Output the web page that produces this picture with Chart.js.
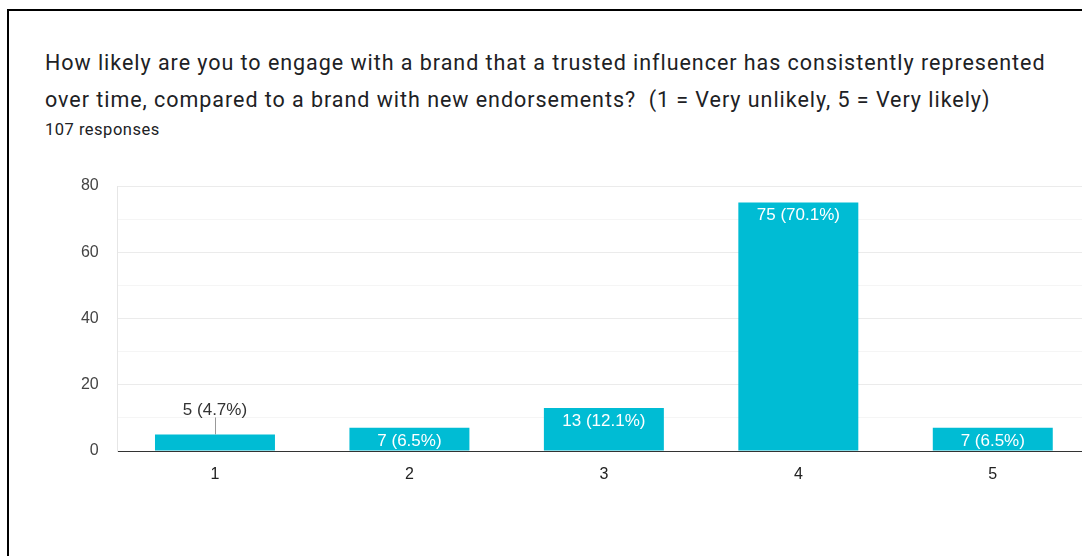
<!DOCTYPE html>
<html>
<head>
<meta charset="utf-8">
<script src="https://cdn.jsdelivr.net/npm/chart.js@4.4.1/dist/chart.umd.min.js"></script>
<style>
  html, body {
    margin: 0;
    padding: 0;
    background: #fff;
    width: 1082px;
    height: 556px;
    overflow: hidden;
  }
  .card {
    position: absolute;
    left: 7px;
    top: 9px;
    width: 1200px;
    height: 700px;
    border-left: 2px solid #000;
    border-top: 2px solid #000;
  }
  .title {
    position: absolute;
    left: 45px;
    top: 44px;
    font-family: Roboto, 'Noto Sans', sans-serif;
    font-size: 21.5px;
    line-height: 37px;
    color: #202124;
    white-space: pre;
    letter-spacing: 0.96px;
  }
  .count {
    position: absolute;
    left: 45px;
    top: 120px;
    font-family: Roboto, 'Noto Sans', sans-serif;
    font-size: 16.5px;
    color: #202124;
    letter-spacing: 0.5px;
  }
  #chart {
    position: absolute;
    left: 0;
    top: 0;
  }
</style>
</head>
<body>
<div class="card"></div>
<div class="title">How likely are you to engage with a brand that a trusted influencer has consistently represented
over time, compared to a brand with new endorsements?  (1 = Very unlikely, 5 = Very likely)</div>
<div class="count">107 responses</div>
<canvas id="chart" width="1100" height="556"></canvas>

<script>
// answer scale and response counts
const ratings = ['1', '2', '3', '4', '5'];
const responses = [5, 7, 13, 75, 7];
const percents = ['4.7', '6.5', '12.1', '70.1', '6.5'];

const barColor = '#00bcd4';
const labelFont = '17px "Liberation Sans", Arial, sans-serif';

// draws "n (p%)" on each bar; short bars get the label above with a leader line
const barLabels = {
  id: 'barLabels',
  afterDatasetsDraw(chart) {
    const ctx = chart.ctx;
    const meta = chart.getDatasetMeta(0);
    ctx.save();
    ctx.font = labelFont;
    ctx.textAlign = 'center';
    ctx.textBaseline = 'middle';
    meta.data.forEach((bar, i) => {
      const text = responses[i] + ' (' + percents[i] + '%)';
      const h = bar.base - bar.y;
      if (h >= 20) {
        ctx.fillStyle = '#ffffff';
        ctx.fillText(text, bar.x, bar.y + 13);
      } else {
        ctx.strokeStyle = '#999999';
        ctx.lineWidth = 1;
        ctx.beginPath();
        ctx.moveTo(Math.round(bar.x) + 0.5, bar.y);
        ctx.lineTo(Math.round(bar.x) + 0.5, bar.y - 17);
        ctx.stroke();
        ctx.fillStyle = '#333333';
        ctx.fillText(text, bar.x, bar.y - 24);
      }
    });
    ctx.restore();
  }
};

new Chart(document.getElementById('chart'), {
  type: 'bar',
  data: {
    labels: ratings,
    datasets: [{
      data: responses,
      backgroundColor: barColor,
      borderWidth: 0,
      barPercentage: 1,
      categoryPercentage: 0.617
    }]
  },
  options: {
    responsive: false,
    animation: false,
    layout: {
      padding: { top: 186, right: 10, left: 0, bottom: 0 }
    },
    plugins: {
      legend: { display: false },
      tooltip: { enabled: false }
    },
    scales: {
      x: {
        grid: { display: false, drawTicks: false },
        border: { color: '#333333', width: 1 },
        ticks: {
          color: '#222222',
          padding: 14,
          font: { family: '"Liberation Sans", Arial, sans-serif', size: 16 }
        },
        afterFit(scale) { scale.height = 105; }
      },
      y: {
        min: 0,
        max: 80,
        grid: {
          drawTicks: false,
          color: (c) => {
            const v = c.tick.value;
            if (v === 0) return '#333333';
            return v % 20 === 0 ? '#ebebeb' : '#f5f5f5';
          }
        },
        border: { color: '#e6e6e6', width: 1 },
        ticks: {
          stepSize: 10,
          padding: 19,
          color: '#444444',
          font: { family: '"Liberation Sans", Arial, sans-serif', size: 16 },
          callback: (v) => (v % 20 === 0 ? v : '')
        },
        afterFit(scale) { scale.width = 117.75; }
      }
    }
  },
  plugins: [barLabels]
});
</script>
</body>
</html>
